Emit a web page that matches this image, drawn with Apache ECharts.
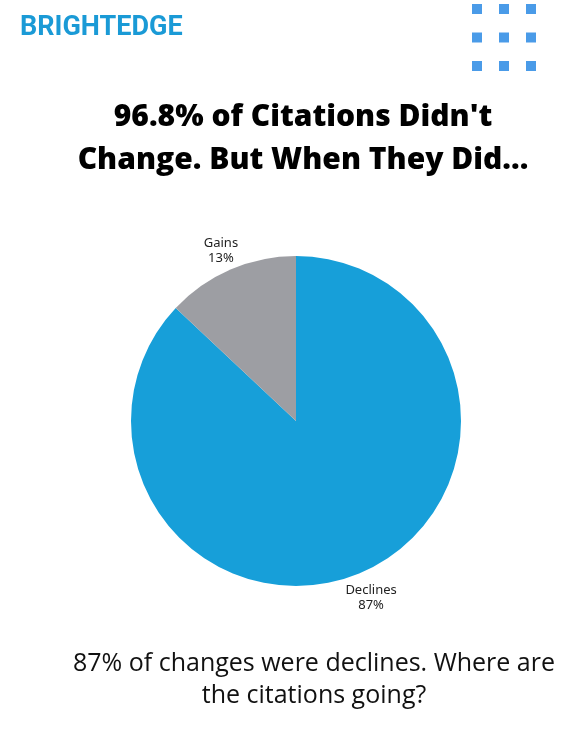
<!DOCTYPE html>
<html>
<head>
<meta charset="utf-8">
<script src="https://cdn.jsdelivr.net/npm/echarts@6/dist/echarts.min.js"></script>
<style>
  html, body { margin: 0; padding: 0; background: #fff; }
  #chart { width: 588px; height: 741px; }
</style>
</head>
<body>
<div id="chart"></div>
<script>
const categories = ['Declines', 'Gains'];
const shares = [87, 13];
const sliceColors = ['#179fd9', '#9d9ea3'];

const chart = echarts.init(document.getElementById('chart'));

// decorative 3x3 dot grid, top right
const dots = [];
for (let r = 0; r < 3; r++) {
  for (let c = 0; c < 3; c++) {
    dots.push({
      type: 'rect',
      shape: { x: 472 + c * 27, y: 4 + r * 28.5, width: 10, height: 10 },
      style: { fill: '#4a9be8' }
    });
  }
}

const option = {
  backgroundColor: '#fff',
  title: [
    {
      text: "96.8% of Citations Didn't\nChange. But When They Did...",
      left: 298,
      top: 91,
      textAlign: 'center',
      textStyle: {
        fontFamily: 'Open Sans',
        fontWeight: 800,
        fontSize: 30,
        lineHeight: 43,
        color: '#000'
      }
    },
    {
      text: '87% of changes were declines. Where are\nthe citations going?',
      left: 309,
      top: 643,
      textAlign: 'center',
      textStyle: {
        fontFamily: 'Open Sans',
        fontWeight: 'normal',
        fontSize: 25,
        lineHeight: 32,
        color: '#111'
      }
    }
  ],
  graphic: [
    {
      type: 'text',
      left: 20,
      top: 15,
      style: {
        text: 'BRIGHTEDGE',
        font: 'bold 27px "Liberation Sans Narrow", "Roboto", sans-serif',
        fill: '#1a9ad6'
      }
    },
    ...dots
  ],
  series: [
    {
      type: 'pie',
      radius: 165,
      center: [296, 421],
      startAngle: 90,
      clockwise: true,
      data: categories.map((name, i) => ({
        name,
        value: shares[i],
        itemStyle: { color: sliceColors[i] }
      })),
      label: {
        show: true,
        position: 'outside',
        formatter: '{b}\n{c}%',
        fontFamily: 'Noto Sans',
        fontSize: 13,
        lineHeight: 15,
        color: '#222'
      },
      labelLine: { show: false, length: 24, length2: 0 },
      // centre each label on the end of its (hidden) label line
      labelLayout: function (params) {
        const pts = params.labelLinePoints;
        const end = pts[pts.length - 1];
        return { x: end[0], y: end[1] + 3, align: 'center', verticalAlign: 'middle' };
      },
      emphasis: { disabled: true }
    }
  ]
};

chart.setOption(option);
</script>
</body>
</html>
